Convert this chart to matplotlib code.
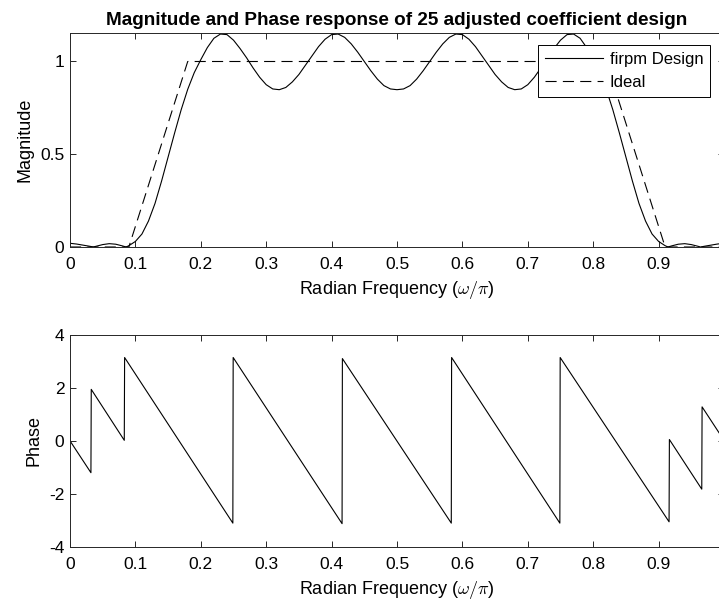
import matplotlib
matplotlib.use('Agg')
import matplotlib.pyplot as plt

# Magnitude response (omega/pi, |H|)
mag_w = [0.00, 0.01, 0.02, 0.03, 0.0357, 0.04, 0.05, 0.06, 0.07, 0.08, 0.0857,
         0.09, 0.10, 0.11, 0.12, 0.13, 0.14, 0.15, 0.16, 0.17, 0.18, 0.19,
         0.20, 0.21, 0.22, 0.23, 0.24, 0.25, 0.26, 0.27, 0.28, 0.29, 0.30,
         0.31, 0.32, 0.33, 0.34, 0.35, 0.36, 0.37, 0.38, 0.39, 0.40, 0.41,
         0.42, 0.43, 0.44, 0.45, 0.46, 0.47, 0.48, 0.49, 0.50, 0.51, 0.52,
         0.53, 0.54, 0.55, 0.56, 0.57, 0.58, 0.59, 0.60, 0.61, 0.62, 0.63,
         0.64, 0.65, 0.66, 0.67, 0.68, 0.69, 0.70, 0.71, 0.72, 0.73, 0.74,
         0.75, 0.76, 0.77, 0.78, 0.79, 0.80, 0.81, 0.82, 0.83, 0.84, 0.85,
         0.86, 0.87, 0.88, 0.89, 0.90, 0.91, 0.9143, 0.92, 0.93, 0.94, 0.95,
         0.96, 0.9643, 0.97, 0.98, 0.99, 1.00]
mag_h = [0.020, 0.016, 0.010, 0.004, 0.000, 0.004, 0.013, 0.018, 0.015, 0.006, 0.000,
         0.007, 0.030, 0.070, 0.140, 0.235, 0.355, 0.485, 0.615, 0.740, 0.850, 0.940,
         1.010, 1.075, 1.125, 1.148, 1.145, 1.115, 1.070, 1.020, 0.965, 0.915, 0.875,
         0.852, 0.848, 0.860, 0.890, 0.930, 0.980, 1.030, 1.080, 1.120, 1.145, 1.148,
         1.130, 1.095, 1.050, 1.000, 0.950, 0.905, 0.870, 0.852, 0.848, 0.852, 0.870,
         0.905, 0.950, 1.000, 1.050, 1.095, 1.130, 1.148, 1.145, 1.120, 1.080, 1.030,
         0.980, 0.930, 0.890, 0.860, 0.848, 0.852, 0.875, 0.915, 0.965, 1.020, 1.070,
         1.115, 1.145, 1.148, 1.125, 1.075, 1.010, 0.940, 0.850, 0.740, 0.615, 0.485,
         0.355, 0.235, 0.140, 0.070, 0.030, 0.007, 0.000, 0.006, 0.015, 0.018, 0.013,
         0.004, 0.000, 0.004, 0.010, 0.016, 0.020]

# Ideal (desired) response
ideal_w = [0.0, 0.09, 0.18, 0.82, 0.91, 1.0]
ideal_h = [0, 0, 1, 1, 0, 0]

# Phase response (radians), break points of the wrapped phase
phase_w = [0.0, 0.032, 0.0325, 0.083, 0.0835, 0.249, 0.2495, 0.416, 0.4165,
           0.583, 0.5835, 0.749, 0.7495, 0.916, 0.9165, 0.966, 0.9665, 1.0]
phase_v = [0.0, -1.20, 1.94, 0.02, 3.14, -3.10, 3.14, -3.12, 3.10,
           -3.10, 3.14, -3.10, 3.14, -3.05, 0.05, -1.82, 1.28, 0.02]

x_ticks = [0, 0.1, 0.2, 0.3, 0.4, 0.5, 0.6, 0.7, 0.8, 0.9]
x_ticklabels = ['0', '0.1', '0.2', '0.3', '0.4', '0.5', '0.6', '0.7', '0.8', '0.9']
mag_ticks = [0, 0.5, 1]
mag_ticklabels = ['0', '0.5', '1']
phase_ticks = [-4, -2, 0, 2, 4]
phase_ticklabels = ['-4', '-2', '0', '2', '4']

plt.rcParams['font.family'] = ['Liberation Sans', 'DejaVu Sans']
plt.rcParams['mathtext.fontset'] = 'cm'
plt.rcParams['axes.unicode_minus'] = False
plt.rcParams['lines.scale_dashes'] = False

axis_col = '#262626'
W, H = 719, 605
fig = plt.figure(figsize=(W / 100, H / 100), dpi=100)

# axes extend past the right edge of the picture, like the reference
ax1 = fig.add_axes([70 / W, 1 - 247 / H, 654 / W, (247 - 33.3) / H])
ax2 = fig.add_axes([70 / W, 1 - 547 / H, 654 / W, (547 - 334.7) / H])


def style_axes(ax):
    for sp in ax.spines.values():
        sp.set_color(axis_col)
        sp.set_linewidth(0.7)
    ax.tick_params(direction='in', length=4.5, width=0.7, colors=axis_col,
                   labelcolor='black', labelsize=12.5, top=True, right=True, pad=4)
    ax.tick_params(axis='x', pad=7)
    ax.set_xticks(x_ticks)
    ax.set_xticklabels(x_ticklabels)
    ax.set_xlim(0, 1)
    ax.set_xlabel(r'Radian Frequency ($\omega/\pi$)', fontsize=13, labelpad=5)


# Magnitude
ax1.plot(mag_w, mag_h, color='black', lw=0.8, label='firpm Design')
ax1.plot(ideal_w, ideal_h, color='black', lw=0.8, dashes=(8, 4.5), label='Ideal')
style_axes(ax1)
ax1.set_ylim(0, 1.152)
ax1.set_yticks(mag_ticks)
ax1.set_yticklabels(mag_ticklabels)
ax1.set_ylabel('Magnitude', fontsize=13, labelpad=4.5)
ax1.set_title('Magnitude and Phase response of 25 adjusted coefficient design',
              fontsize=13.6, fontweight='bold', pad=6)
leg = ax1.legend(loc='upper left', bbox_to_anchor=(538 / W, 1 - 45 / H),
                 bbox_transform=fig.transFigure, fontsize=12, frameon=True,
                 fancybox=False, framealpha=1, edgecolor='black',
                 handlelength=3.5, handletextpad=0.4, borderpad=0.4,
                 labelspacing=0.5, borderaxespad=0)
leg.get_frame().set_linewidth(0.7)

# Phase
ax2.plot(phase_w, phase_v, color='black', lw=0.8)
style_axes(ax2)
ax2.set_ylim(-4, 4)
ax2.set_yticks(phase_ticks)
ax2.set_yticklabels(phase_ticklabels)
ax2.set_ylabel('Phase', fontsize=13, labelpad=4.5)

fig.savefig('out.png', dpi=100)
